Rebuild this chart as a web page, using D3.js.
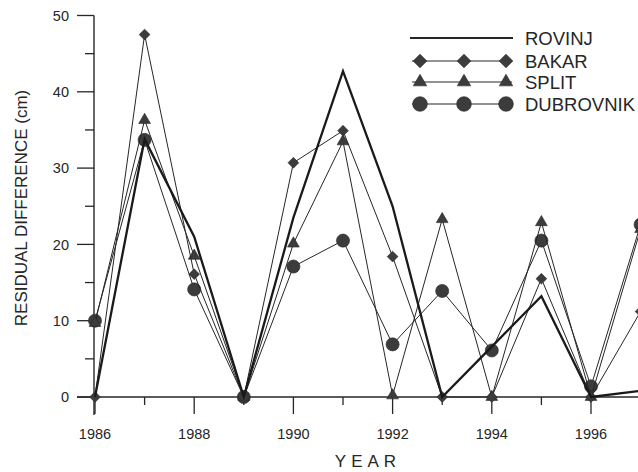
<!DOCTYPE html>
<html>
<head>
<meta charset="utf-8">
<script src="https://cdn.jsdelivr.net/npm/d3@7"></script>
<style>
  html, body { margin: 0; padding: 0; background: #fff; overflow: hidden; }
  svg { display: block; }
</style>
</head>
<body>
<svg id="chart" width="638" height="472"></svg>
<script>
// Annual residual differences (cm) at four Adriatic tide-gauge stations
const years = [1986, 1987, 1988, 1989, 1990, 1991, 1992, 1993, 1994, 1995, 1996, 1997];
const rovinj     = [0, 33.8, 21, 0, 23.5, 42.7, 25, 0, 6.6, 13.2, 0, 0.8];
const bakar      = [0, 47.5, 16.1, 0, 30.7, 34.9, 18.4, 0, 0, 15.5, 0, 11.2];
const split      = [9.7, 36.3, 18.5, 0, 20.1, 33.5, 0.2, 23.3, 0, 22.9, 0, 22];
const dubrovnik  = [10, 33.7, 14.1, 0, 17.1, 20.5, 6.9, 13.9, 6.1, 20.5, 1.4, 22.6];

const yTicks = [0, 10, 20, 30, 40, 50];
const yMinorTicks = [5, 15, 25, 35, 45];
const xTicks = [1986, 1988, 1990, 1992, 1994, 1996];
const xMinorTicks = [1987, 1989, 1991, 1993, 1995, 1997];

const seriesNames = ["ROVINJ", "BAKAR", "SPLIT", "DUBROVNIK"];

const svg = d3.select("#chart");
const ink = "#262626";
const markFill = "#3c3c3c";
const tickFont = "'Liberation Sans', Arial, sans-serif";

const x = d3.scaleLinear().domain([1986, 1997]).range([95, 640.6]);
const y = d3.scaleLinear().domain([0, 50]).range([397, 15.5]);

// Axes
const yAxis = svg.append("g").attr("transform", `translate(${x(1986) - 1},0)`);
yAxis.append("line").attr("x1", 0).attr("x2", 0).attr("y1", y(50)).attr("y2", y(0) + 18)
  .attr("stroke", ink).attr("stroke-width", 1.4);
yAxis.selectAll("line.major").data(yTicks).join("line").attr("class", "major")
  .attr("x1", -17).attr("x2", 0).attr("y1", d => y(d)).attr("y2", d => y(d))
  .attr("stroke", ink).attr("stroke-width", 1.3);
yAxis.selectAll("line.minor").data(yMinorTicks).join("line").attr("class", "minor")
  .attr("x1", -9).attr("x2", 0).attr("y1", d => y(d)).attr("y2", d => y(d))
  .attr("stroke", ink).attr("stroke-width", 1.3);
yAxis.selectAll("text").data(yTicks).join("text")
  .attr("x", -25).attr("y", d => y(d)).attr("dy", "0.36em")
  .attr("text-anchor", "end").attr("font-family", tickFont).attr("font-size", 14.5)
  .attr("fill", ink).text(d => d);

const xAxis = svg.append("g");
xAxis.append("line").attr("x1", x(1986) - 18).attr("x2", 640).attr("y1", y(0)).attr("y2", y(0))
  .attr("stroke", ink).attr("stroke-width", 1.4);
xAxis.selectAll("line.major").data(xTicks).join("line").attr("class", "major")
  .attr("x1", d => x(d)).attr("x2", d => x(d)).attr("y1", y(0)).attr("y2", y(0) + 17)
  .attr("stroke", ink).attr("stroke-width", 1.3);
xAxis.selectAll("line.minor").data(xMinorTicks).join("line").attr("class", "minor")
  .attr("x1", d => x(d)).attr("x2", d => x(d)).attr("y1", y(0)).attr("y2", y(0) + 8)
  .attr("stroke", ink).attr("stroke-width", 1.3);
xAxis.selectAll("text").data(xTicks).join("text")
  .attr("x", d => x(d)).attr("y", 439)
  .attr("text-anchor", "middle").attr("font-family", tickFont).attr("font-size", 14.5)
  .attr("fill", ink).text(d => d);

svg.append("text").attr("x", 368).attr("y", 467).attr("text-anchor", "middle")
  .attr("font-family", tickFont).attr("font-size", 17).attr("letter-spacing", "5px")
  .attr("fill", ink).text("YEAR");

svg.append("text").attr("transform", "translate(27,208) rotate(-90)")
  .attr("text-anchor", "middle").attr("font-family", tickFont).attr("font-size", 17)
  .attr("fill", ink).text("RESIDUAL DIFFERENCE (cm)");

// Series
const line = d3.line().x((d, i) => x(years[i])).y(d => y(d));
const sym = {
  diamond: d3.symbol().type(d3.symbolDiamond2).size(74),
  triangle: d3.symbol().type(d3.symbolTriangle).size(60),
  circle: d3.symbol().type(d3.symbolCircle).size(135)
};
const legendSym = {
  diamond: d3.symbol().type(d3.symbolDiamond2).size(120),
  triangle: d3.symbol().type(d3.symbolTriangle).size(78),
  circle: d3.symbol().type(d3.symbolCircle).size(170)
};

const plot = svg.append("g");

function drawThin(values, shape) {
  plot.append("path").datum(values).attr("d", line)
    .attr("fill", "none").attr("stroke", ink).attr("stroke-width", 1);
  plot.append("g").selectAll("path").data(values).join("path")
    .attr("transform", (d, i) => `translate(${x(years[i])},${y(d)})`)
    .attr("d", sym[shape]).attr("fill", markFill).attr("stroke", ink).attr("stroke-width", 0.6);
}

drawThin(dubrovnik, "circle");
drawThin(split, "triangle");
drawThin(bakar, "diamond");

plot.append("path").datum(rovinj).attr("d", line)
  .attr("fill", "none").attr("stroke", "#1a1a1a").attr("stroke-width", 2.3)
  .attr("stroke-linejoin", "miter");

// Legend
const legend = svg.append("g");
const legendRows = [
  { name: seriesNames[0], y: 38, shape: null },
  { name: seriesNames[1], y: 61, shape: "diamond" },
  { name: seriesNames[2], y: 82, shape: "triangle" },
  { name: seriesNames[3], y: 104, shape: "circle" }
];
const markerXs = [420, 464, 506];
legendRows.forEach(r => {
  legend.append("line").attr("x1", r.shape ? 412 : 410).attr("x2", r.shape ? 512 : 513)
    .attr("y1", r.y).attr("y2", r.y).attr("stroke", ink)
    .attr("stroke-width", r.shape ? 1 : 2.2);
  if (r.shape) {
    legend.selectAll(null).data(markerXs).join("path")
      .attr("transform", d => `translate(${d},${r.y})`)
      .attr("d", legendSym[r.shape]).attr("fill", markFill).attr("stroke", ink).attr("stroke-width", 0.6);
  }
  legend.append("text").attr("x", 525).attr("y", r.y).attr("dy", "0.36em")
    .attr("font-family", tickFont).attr("font-size", 18.5).attr("fill", ink).text(r.name);
});
</script>
</body>
</html>
